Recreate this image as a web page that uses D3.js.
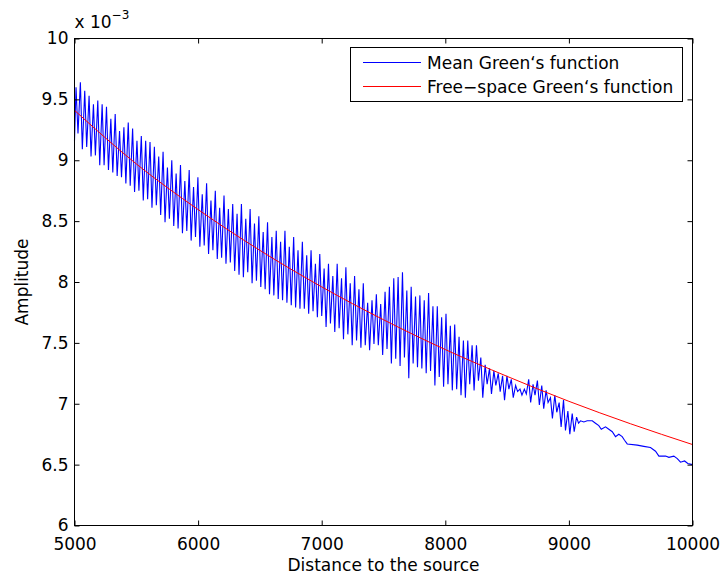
<!DOCTYPE html>
<html>
<head>
  <meta charset="utf-8">
  <title>Mean vs free-space Green's function</title>
  <style>
    body, html { margin: 0; padding: 0; background: #fff; }
    svg text { font-family: "DejaVu Sans", sans-serif; fill: #000; }
  </style>
</head>
<body>
  <svg id="svg" width="723" height="577"></svg>

  <script src="https://d3js.org/d3.v7.min.js"></script>
  <script>
    // amplitudes are in units of 1e-3
    const xTicks = [5000, 6000, 7000, 8000, 9000, 10000]
    const yTicks = [6, 6.5, 7, 7.5, 8, 8.5, 9, 9.5, 10]
    const legendLabels = ["Mean Green\u2018s function", "Free\u2212space Green\u2018s function"]

    // oscillating part of the mean Green's function: one peak and one trough per cycle
    const oscStart = 5000
    const oscEnd = 9085
    const startAmp = 9.16
    const peaks = [
      9.60, 9.64, 9.57, 9.53, 9.46, 9.49, 9.46, 9.44, 9.34, 9.38, 9.24, 9.27, 9.31, 9.26, 9.16, 9.20, 9.16, 9.15, 9.11,
      9.03, 9.07, 8.94, 9.00, 8.89, 8.96, 8.83, 8.92, 8.78, 8.86, 8.72, 8.81, 8.67, 8.75, 8.61, 8.71, 8.60, 8.64,
      8.56, 8.64, 8.52, 8.60, 8.48, 8.54, 8.41, 8.49, 8.37, 8.42, 8.33, 8.42, 8.29, 8.37, 8.26, 8.33, 8.22, 8.26, 8.15, 8.23,
      8.11, 8.15, 8.05, 8.15, 8.03, 8.12, 7.99, 8.05, 7.94, 7.99, 7.83, 7.85, 7.90, 7.82, 7.92, 7.96, 8.03, 8.04, 8.08,
      7.93, 7.96, 7.88, 7.89, 7.85, 7.91, 7.80, 7.80, 7.71, 7.74, 7.64, 7.65, 7.55, 7.52, 7.52, 7.48, 7.48, 7.38, 7.32,
      7.29, 7.27, 7.25, 7.23, 7.23, 7.20, 7.15, 7.12, 7.12, 7.20, 7.16, 7.19, 7.15, 7.11, 7.05, 7.07, 7.01, 7.03, 6.94,
      6.92, 6.89
    ]
    const troughs = [
      9.22, 9.09, 9.11, 9.03, 9.04, 8.96, 8.96, 8.92, 8.90, 8.87, 8.86, 8.81, 8.79, 8.74, 8.75, 8.67, 8.68, 8.61, 8.63,
      8.55, 8.49, 8.52, 8.46, 8.44, 8.40, 8.42, 8.34, 8.37, 8.29, 8.30, 8.23, 8.26, 8.19, 8.20, 8.15, 8.16, 8.09,
      8.06, 8.04, 8.08, 7.99, 8.01, 7.96, 7.94, 7.90, 7.89, 7.86, 7.85, 7.83, 7.81, 7.79, 7.78, 7.78, 7.74, 7.76, 7.71, 7.72,
      7.63, 7.66, 7.59, 7.62, 7.53, 7.57, 7.48, 7.52, 7.46, 7.48, 7.44, 7.49, 7.48, 7.40, 7.45, 7.33, 7.37, 7.31, 7.38,
      7.21, 7.33, 7.30, 7.29, 7.25, 7.27, 7.15, 7.22, 7.14, 7.16, 7.11, 7.12, 7.07, 7.05, 7.16, 7.11, 7.19, 7.05, 7.16,
      7.08, 7.15, 7.10, 7.03, 7.12, 7.05, 7.10, 7.07, 7.08, 7.01, 7.07, 6.99, 6.96, 7.01, 6.88, 6.93, 6.81, 6.78, 6.75,
      6.77, 6.84
    ]

    // smooth tail of the mean Green's function
    const tailDist = [9094, 9121, 9148, 9189, 9215, 9242, 9262, 9296, 9323, 9351, 9377, 9404, 9431, 9450, 9472,
      9553, 9606, 9660, 9701, 9728, 9755, 9782, 9809, 9849, 9877, 9903, 9936, 9962, 10000]
    const tailAmp = [6.86, 6.85, 6.86, 6.86, 6.84, 6.82, 6.79, 6.81, 6.79, 6.77, 6.73, 6.75, 6.73, 6.70, 6.67,
      6.66, 6.65, 6.64, 6.61, 6.57, 6.57, 6.57, 6.56, 6.57, 6.55, 6.52, 6.53, 6.51, 6.50]

    // free-space Green's function
    const freeDist = [5000, 5500, 6000, 6500, 7000, 7500, 8000, 8500, 9000, 9500, 10000]
    const freeAmp = [9.41, 8.97, 8.595, 8.26, 7.96, 7.69, 7.445, 7.225, 7.02, 6.835, 6.665]

    const plotLeft = 74.5, plotRight = 692.5, plotTop = 38.5, plotBottom = 525.5
    const fontSize = 17

    const svg = d3.select("#svg")

    const xScale = d3.scaleLinear().domain([5000, 10000]).range([plotLeft, plotRight])
    const yScale = d3.scaleLinear().domain([6, 10]).range([plotBottom, plotTop])

    // mean series
    const cycleScale = d3.scaleLinear().domain([0, peaks.length]).range([oscStart, oscEnd])
    const mean = [{ d: oscStart, v: startAmp }]
    peaks.forEach((p, i) => {
      mean.push({ d: cycleScale(i + 0.35), v: p })
      mean.push({ d: cycleScale(i + 0.8), v: troughs[i] })
    })
    tailDist.forEach((d, i) => mean.push({ d, v: tailAmp[i] }))

    const free = freeDist.map((d, i) => ({ d, v: freeAmp[i] }))

    const line = d3.line().x(p => xScale(p.d)).y(p => yScale(p.v))

    svg.append("path")
      .attr("d", line(mean))
      .attr("fill", "none")
      .attr("stroke", "#0000ff")
      .attr("stroke-width", 1.1)

    svg.append("path")
      .attr("d", line.curve(d3.curveMonotoneX)(free))
      .attr("fill", "none")
      .attr("stroke", "#ff0000")
      .attr("stroke-width", 1)

    // axes, ticks pointing inwards on every side
    const tick = 5
    const noDomain = g => g.select(".domain").remove()

    svg.append("g")
      .attr("transform", `translate(0, ${plotBottom})`)
      .call(d3.axisBottom(xScale).tickValues(xTicks).tickSizeInner(-tick).tickSizeOuter(0).tickPadding(12).tickFormat(d => d))
      .call(noDomain)
    svg.append("g")
      .attr("transform", `translate(0, ${plotTop})`)
      .call(d3.axisTop(xScale).tickValues(xTicks).tickSizeInner(-tick).tickSizeOuter(0).tickFormat(""))
      .call(noDomain)
    svg.append("g")
      .attr("transform", `translate(${plotLeft}, 0)`)
      .call(d3.axisLeft(yScale).tickValues(yTicks).tickSizeInner(-tick).tickSizeOuter(0).tickPadding(6).tickFormat(d => d))
      .call(noDomain)
    svg.append("g")
      .attr("transform", `translate(${plotRight}, 0)`)
      .call(d3.axisRight(yScale).tickValues(yTicks).tickSizeInner(-tick).tickSizeOuter(0).tickFormat(""))
      .call(noDomain)

    svg.selectAll(".tick line").attr("stroke", "#000")
    svg.selectAll(".tick text")
      .attr("font-size", fontSize)
      .attr("font-family", "DejaVu Sans, sans-serif")

    svg.append("rect")
      .attr("x", plotLeft).attr("y", plotTop)
      .attr("width", plotRight - plotLeft).attr("height", plotBottom - plotTop)
      .attr("fill", "none").attr("stroke", "#000").attr("stroke-width", 1)

    // exponent label
    const expo = svg.append("text").attr("x", plotLeft).attr("y", 28).attr("font-size", fontSize)
    expo.append("tspan").text("x 10")
    expo.append("tspan").attr("dy", -9).attr("font-size", 12).text("\u22123")

    // axis titles
    svg.append("text")
      .attr("x", (plotLeft + plotRight) / 2).attr("y", 571)
      .attr("text-anchor", "middle").attr("font-size", fontSize)
      .text("Distance to the source")
    svg.append("text")
      .attr("transform", `translate(28, ${(plotTop + plotBottom) / 2}) rotate(-90)`)
      .attr("text-anchor", "middle").attr("font-size", fontSize)
      .text("Amplitude")

    // legend
    const legend = svg.append("g")
    legend.append("rect")
      .attr("x", 350.5).attr("y", 47.5).attr("width", 332).attr("height", 54)
      .attr("fill", "#fff").attr("stroke", "#000").attr("stroke-width", 1)
    const legendColors = ["#0000ff", "#ff0000"]
    legendLabels.forEach((label, i) => {
      const y = 62.5 + i * 24
      legend.append("line")
        .attr("x1", 363).attr("x2", 421).attr("y1", y).attr("y2", y)
        .attr("stroke", legendColors[i]).attr("stroke-width", 1)
      legend.append("text")
        .attr("x", 427).attr("y", y + 6).attr("font-size", fontSize)
        .text(label)
    })
  </script>
</body>
</html>
